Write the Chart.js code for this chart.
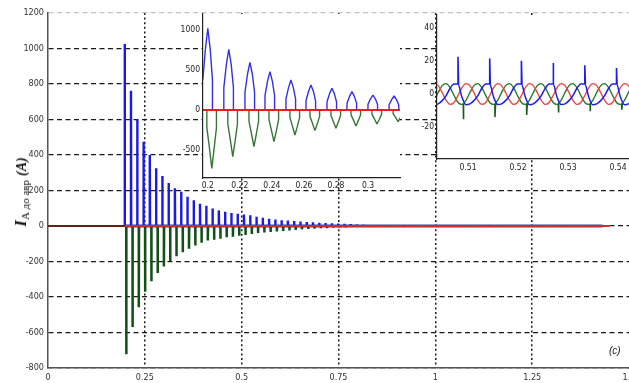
<!DOCTYPE html>
<html>
<head>
<meta charset="utf-8">
<script src="https://cdn.jsdelivr.net/npm/chart.js@4.4.1/dist/chart.umd.min.js"></script>
<style>
    body { margin: 0; background: #fff; }
    #wrap { position: relative; width: 629px; height: 383px; overflow: hidden; background: #fff; }
    #wrap canvas { position: absolute; }
    #mainChart { left: 0; top: 0; }
    #startChart { left: 172px; top: 8px; }
    #steadyChart { left: 405px; top: 8px; }
    #ylab {
        position: absolute; left: 21px; top: 192px;
        transform: translate(-50%, -50%) rotate(-90deg);
        white-space: nowrap; font-family: 'Liberation Serif', 'DejaVu Serif', serif; color: #111;
    }
    #ylab .big { font-weight: bold; font-style: italic; font-size: 17px; }
    #ylab sub { font-size: 11px; vertical-align: -3px; }
    #ylab .unit { font-weight: bold; font-style: italic; font-size: 14px; }
    #tag { position: absolute; left: 609px; top: 345px; font: italic 10px 'Liberation Sans', Arial, sans-serif; color: #222; }
</style>
</head>
<body>
<div id="wrap">
    <canvas id="mainChart" width="629" height="383"></canvas>
    <canvas id="startChart" width="233" height="184"></canvas>
    <canvas id="steadyChart" width="224" height="166"></canvas>
    <div id="ylab"><span class="big">I</span><sub>А до авр</sub> <span class="unit">(A)</span></div>
    <div id="tag">(c)</div>
</div>
<script>
// full record: one spike per cycle, peak / trough per phase
const mainStart = 0.198;
const mainPeriod = 0.0162;
const mainPeaksA = [1025, 762, 600, 474, 400, 326, 281, 242, 213, 193,
    165, 145, 125, 114, 98, 88, 80, 73, 69, 65,
    60, 52, 46, 41, 37, 33, 31, 28, 26, 22,
    21, 19, 17, 15, 14, 13, 11, 9, 8, 7,
    7, 6, 6, 6, 5, 5, 5, 5, 5, 5,
    5, 4, 5, 4, 5, 4, 4, 5, 4, 4,
    4, 5, 4, 4, 4, 4, 5, 4, 4, 4,
    4, 4, 4, 4, 4, 4, 4];
const mainPeaksC = [-722, -569, -458, -370, -311, -265, -228, -200, -170, -148,
    -128, -110, -95, -82, -78, -72, -64, -60, -55, -50,
    -45, -40, -37, -34, -31, -28, -25, -22, -19, -17,
    -15, -13, -12, -10, -9, -8, -7, -6, -5, -5,
    -5, -4, -4, -4, -4, -4, -4, -4, -4, -4,
    -4, -4, -4, -3, -4, -4, -3, -4, -4, -3,
    -4, -4, -3, -4, -4, -3, -4, -4, -3, -4,
    -4, -3, -4, -4, -3, -4, -4];
const mainEnd = 1.45;

// first cycles after switching (0.2 .. 0.32 s)
const startTimesA = [0.2, 0.2131, 0.2263, 0.2388, 0.2519, 0.2644, 0.2775, 0.29, 0.3031, 0.3163];
const startPeakA = [1020, 758, 596, 479, 375, 312, 271, 229, 187, 175];
const startMidA = [760, 570, 450, 360, 280, 235, 205, 170, 140, 130];
const startLowA = [380, 280, 220, 180, 140, 115, 100, 85, 70, 65];
const startTimesC = [0.2025, 0.2156, 0.2288, 0.2413, 0.2544, 0.2669, 0.28, 0.2925, 0.3056, 0.3188];
const startPeakC = [-729, -583, -458, -396, -312, -258, -229, -200, -175, -146];
const startMidC = [-470, -380, -300, -260, -205, -170, -150, -130, -115, -95];
const startLowC = [-220, -175, -140, -120, -95, -80, -70, -60, -55, -45];

// steady state (0.504 .. 0.542 s), samples every 0.0007925 s
const steadyStart = 0.50325;
const steadyStep = 0.0007925;
const steadyA = [-6.5, -6, -4, -1, 3.5, 6, 6, -2,  -6.5, -6, -4, -1, 3.5, 6.1, 6, -2,
    -6.4, -6, -4, -1, 3.5, 6, 6, -2,  -6.5, -6, -4, -1, 3.4, 6, 6, -2,
    -6.4, -6, -4, -1, 3.5, 6, 6.1, -2,  -6.5, -6, -4, -1, 3.5, 6, 6, -2,
    -6.5, -6, -4];
const steadyB = [6.3, 5.1, 0.9, -3.9, -6.3, -5.1, -0.9, 3.9,  6.3, 5.1, 0.9, -3.9, -6.3, -5.1, -0.9, 3.9,
    6.3, 5.1, 0.9, -3.9, -6.3, -5.1, -0.9, 3.9,  6.3, 5.1, 0.9, -3.9, -6.3, -5.1, -0.9, 3.9,
    6.3, 5.1, 0.9, -3.9, -6.3, -5.1, -0.9, 3.9,  6.3, 5.1, 0.9, -3.9, -6.3, -5.1, -0.9, 3.9,
    6.3, 5.1, 0.9];
const steadyC = [-3.9, 0.9, 5.1, 6.3, 3.9, -0.9, -5.1, -6.3,  -3.9, 0.9, 5.1, 6.3, 3.9, -0.9, -5.1, -6.3,
    -3.9, 0.9, 5.1, 6.3, 3.9, -0.9, -5.1, -6.3,  -3.9, 0.9, 5.1, 6.3, 3.9, -0.9, -5.1, -6.3,
    -3.9, 0.9, 5.1, 6.3, 3.9, -0.9, -5.1, -6.3,  -3.9, 0.9, 5.1, 6.3, 3.9, -0.9, -5.1, -6.3,
    -3.9, 0.9, 5.1];
const spikeTimesA = [0.508, 0.51434, 0.52068, 0.52702, 0.53336, 0.5397];
const spikePeakA = [22.6, 21.6, 20.2, 18.8, 17.4, 15.8];
const spikeTimesC = [0.50905, 0.51539, 0.52173, 0.52807, 0.53441, 0.54075];
const spikePeakC = [-15.3, -14, -12.7, -11.2, -10.4, -9.5];

const BLUE = "rgb(25, 25, 232)";
const GREEN = "rgb(18, 80, 22)";
const RED = "rgb(200, 50, 38)";
const tickFont = { family: "'Liberation Sans Narrow', 'DejaVu Sans Condensed', Arial, sans-serif", size: 9 };
const smallFont = { family: tickFont.family, size: 8.5 };

function mainSpikes(peaks, offset) {
    const pts = [];
    peaks.forEach((v, i) => {
        const t = mainStart + i * mainPeriod + offset;
        pts.push({ x: t, y: 0 }, { x: t, y: v }, { x: t + 0.0006, y: 0 });
    });
    return pts;
}

function steppedPulses(times, low, mid, peak) {
    const pts = [];
    times.forEach((t, i) => {
        pts.push({ x: t - 0.0031, y: 0 }, { x: t - 0.0031, y: low[i] }, { x: t - 0.0015, y: mid[i] },
                 { x: t, y: peak[i] },
                 { x: t + 0.0015, y: mid[i] }, { x: t + 0.0029, y: low[i] }, { x: t + 0.0029, y: 0 });
    });
    return pts;
}

function sampled(values) {
    return values.map((v, k) => ({ x: steadyStart + k * steadyStep, y: v }));
}

function needles(times, peaks, base) {
    const pts = [];
    times.forEach((t, i) => {
        pts.push({ x: t, y: base }, { x: t, y: peaks[i] }, { x: t + 0.00012, y: base }, { x: t + 0.00012, y: null });
    });
    return pts;
}

// keep fixed gutters so the plot rectangle lands where it should
function fixWidth(w) {
    return scale => { scale.width = w; scale.paddingTop = 0; scale.paddingBottom = 0; };
}
function fixHeight(h) {
    return scale => { scale.height = h; scale.paddingLeft = 0; scale.paddingRight = 0; };
}
function setTicks(values) {
    return scale => { scale.ticks = values.map(v => ({ value: v })); };
}

const whitePlot = {
    id: "whitePlot",
    beforeDraw(chart) {
        const { ctx, chartArea: a } = chart;
        ctx.save();
        ctx.fillStyle = "#fff";
        ctx.fillRect(a.left, a.top, a.right - a.left, a.bottom - a.top);
        ctx.restore();
    }
};

const baseOptions = {
    responsive: false,
    animation: false,
    events: [],
    parsing: false,
    plugins: { legend: { display: false }, tooltip: { enabled: false } },
    elements: { point: { radius: 0 }, line: { tension: 0, borderJoinStyle: "bevel" } }
};

new Chart(document.getElementById("mainChart"), {
    type: "line",
    data: {
        datasets: [
            { data: [{ x: mainStart, y: 0 }, { x: mainEnd, y: 0 }], borderColor: RED, borderWidth: 2 },
            { data: [{ x: 0, y: 0 }, { x: mainStart, y: 0 }], borderColor: "rgb(95, 35, 25)", borderWidth: 2.2 },
            { data: mainSpikes(mainPeaksA, 0), borderColor: BLUE, borderWidth: 2.4 },
            { data: mainSpikes(mainPeaksC, 0.004), borderColor: GREEN, borderWidth: 2.5 }
        ]
    },
    options: {
        ...baseOptions,
        layout: { padding: { top: 13, right: 0, left: 0, bottom: 0 } },
        scales: {
            x: {
                type: "linear", min: 0, max: 1.5,
                afterFit: fixHeight(15),
                ticks: { stepSize: 0.25, autoSkip: false, maxRotation: 0, font: tickFont, color: "#333", padding: 4, callback: v => String(v) },
                grid: {
                    drawTicks: false, lineWidth: 1.5,
                    color: ctx => (ctx.tick && (ctx.tick.value === 0 || ctx.tick.value === 1.5)) ? "rgba(0,0,0,0)" : "#1a1a1a"
                },
                border: { color: "#555", width: 1.5, dash: [2, 2.6] }
            },
            y: {
                min: -800, max: 1200,
                afterFit: fixWidth(48),
                ticks: { stepSize: 200, font: tickFont, color: "#333", padding: 4, callback: v => String(v) },
                grid: {
                    drawTicks: false, lineWidth: 1.3,
                    color: ctx => (ctx.tick && ctx.tick.value === 1200) ? "#c4c4c4" : "#1a1a1a"
                },
                border: { color: "#555", width: 1.5, dash: [5, 3.5] }
            }
        }
    }
});

new Chart(document.getElementById("startChart"), {
    type: "line",
    data: {
        datasets: [
            { data: [{ x: 0.195, y: 0 }, { x: 0.322, y: 0 }], borderColor: "rgb(230, 30, 30)", borderWidth: 2 },
            { data: steppedPulses(startTimesA, startLowA, startMidA, startPeakA), borderColor: "rgb(50, 50, 228)", borderWidth: 1.4 },
            { data: steppedPulses(startTimesC, startLowC, startMidC, startPeakC), borderColor: "rgb(55, 118, 55)", borderWidth: 1.4 }
        ]
    },
    options: {
        ...baseOptions,
        layout: { padding: { top: 6, right: 5, left: 0, bottom: 0 } },
        scales: {
            x: {
                type: "linear", min: 0.197, max: 0.32,
                afterFit: fixHeight(14),
                afterBuildTicks: setTicks([0.2, 0.22, 0.24, 0.26, 0.28, 0.3]),
                ticks: { autoSkip: false, maxRotation: 0, font: smallFont, color: "#222", padding: 3, callback: v => String(+v.toFixed(2)) },
                grid: { display: false, drawTicks: false },
                border: { color: "#222", width: 1.2 }
            },
            y: {
                min: -850, max: 1200,
                afterFit: fixWidth(31),
                afterBuildTicks: setTicks([-500, 0, 500, 1000]),
                ticks: { font: smallFont, color: "#222", padding: 3, callback: v => String(v) },
                grid: { display: false, drawTicks: false },
                border: { color: "#222", width: 1.2 }
            }
        }
    },
    plugins: [whitePlot]
});

new Chart(document.getElementById("steadyChart"), {
    type: "line",
    data: {
        datasets: [
            { data: needles(spikeTimesA, spikePeakA, 6), borderColor: "rgb(30, 30, 235)", borderWidth: 1.6, spanGaps: false },
            { data: sampled(steadyA), borderColor: "rgb(30, 30, 235)", borderWidth: 1.5, cubicInterpolationMode: "monotone" },
            { data: needles(spikeTimesC, spikePeakC, -6), borderColor: "rgb(25, 95, 25)", borderWidth: 1.6, spanGaps: false },
            { data: sampled(steadyB), borderColor: "rgb(235, 70, 70)", borderWidth: 1.4, cubicInterpolationMode: "monotone" },
            { data: sampled(steadyC), borderColor: "rgb(40, 120, 40)", borderWidth: 1.4, cubicInterpolationMode: "monotone" }
        ]
    },
    options: {
        ...baseOptions,
        layout: { padding: { top: 7, right: 0, left: 0, bottom: 0 } },
        scales: {
            x: {
                type: "linear", min: 0.5038, max: 0.5422,
                afterFit: fixHeight(15),
                afterBuildTicks: setTicks([0.51, 0.52, 0.53, 0.54]),
                ticks: { autoSkip: false, maxRotation: 0, font: smallFont, color: "#222", padding: 4, callback: v => String(+v.toFixed(2)) },
                grid: { display: false, drawTicks: false },
                border: { color: "#222", width: 1.2 }
            },
            y: {
                min: -39.4, max: 47.9,
                afterFit: fixWidth(32),
                afterBuildTicks: setTicks([-20, 0, 20, 40]),
                ticks: { font: smallFont, color: "#222", padding: 3, callback: v => String(v) },
                grid: { display: false, drawTicks: false },
                border: { color: "#222", width: 1.2 }
            }
        }
    },
    plugins: [whitePlot]
});
</script>
</body>
</html>
